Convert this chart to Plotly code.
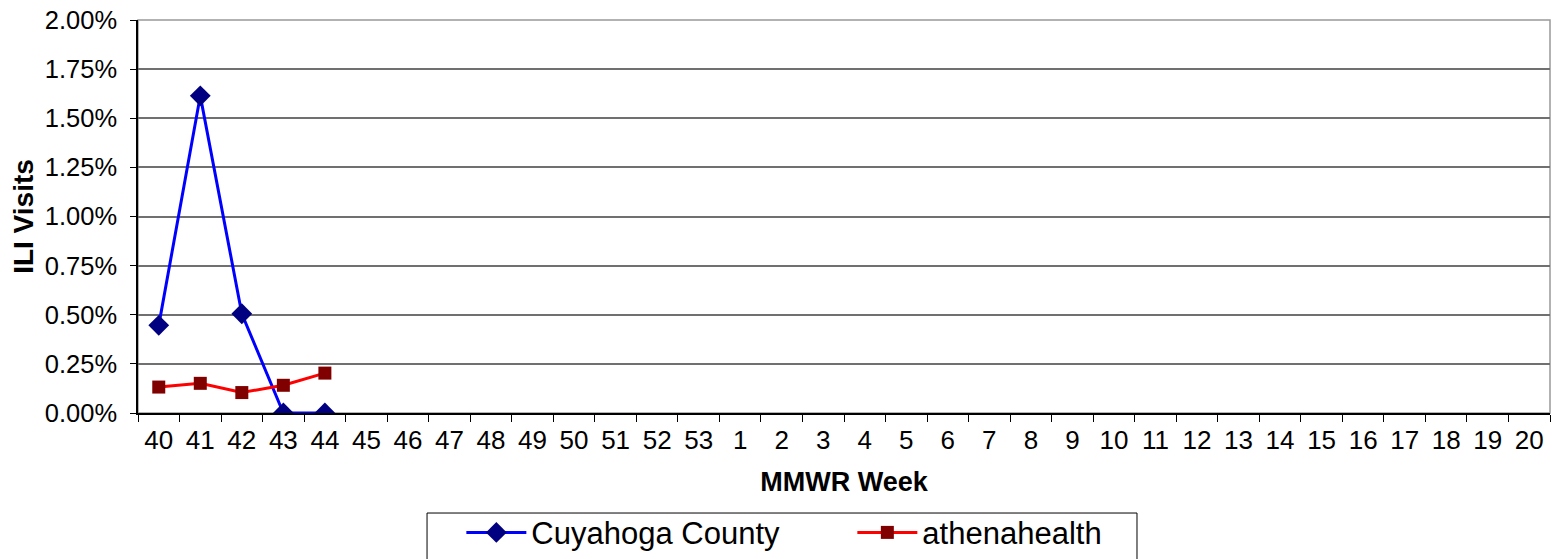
import plotly.graph_objects as go

weeks = [str(w) for w in range(40, 54)] + [str(w) for w in range(1, 21)]
cuyahoga_weeks = ["40", "41", "42", "43", "44"]
cuyahoga_pct = [0.446, 1.614, 0.505, 0.0, 0.0]
athena_weeks = ["40", "41", "42", "43", "44"]
athena_pct = [0.132, 0.151, 0.104, 0.141, 0.203]
y_tickvals = [0, 0.25, 0.5, 0.75, 1.0, 1.25, 1.5, 1.75, 2.0]
y_ticktext = ["0.00%", "0.25%", "0.50%", "0.75%", "1.00%", "1.25%", "1.50%", "1.75%", "2.00%"]

fig = go.Figure()
fig.add_trace(go.Scatter(
    x=cuyahoga_weeks, y=cuyahoga_pct, name="Cuyahoga County", mode="lines+markers",
    line=dict(color="#0000FF", width=3),
    marker=dict(symbol="diamond", color="#000080", size=16),
))
fig.add_trace(go.Scatter(
    x=athena_weeks, y=athena_pct, name="athenahealth", mode="lines+markers",
    line=dict(color="#FF0000", width=3),
    marker=dict(symbol="square", color="#800000", size=13),
))

# plot-area frame (gray right edge)
fig.add_shape(type="rect", xref="paper", yref="paper", x0=0, x1=1, y0=0, y1=1,
              line=dict(color="#999999", width=1.5), layer="below")
# legend frame
fig.add_shape(type="rect", xref="paper", yref="paper", x0=0.2047, x1=0.7075,
              y0=-0.45, y1=-0.2545, line=dict(color="black", width=1), layer="below")

fig.update_layout(
    width=1551, height=551,
    margin=dict(l=130, r=9, t=12, b=146, autoexpand=False),
    paper_bgcolor="white", plot_bgcolor="white",
    font=dict(family="Liberation Sans, Arial, sans-serif", color="black", size=26),
    showlegend=True,
    legend=dict(
        orientation="h", x=0.229, y=-0.236, xanchor="left", yanchor="top",
        borderwidth=0, bgcolor="rgba(0,0,0,0)",
        font=dict(family="Liberation Sans, Arial, sans-serif", size=31),
        entrywidth=316, entrywidthmode="pixels", itemwidth=60,
    ),
    xaxis=dict(
        type="category", categoryorder="array", categoryarray=weeks,
        range=[-0.5, len(weeks) - 0.5], automargin=False,
        showgrid=False, showline=True, linecolor="black", linewidth=1.5,
        ticks="outside", tickson="boundaries", ticklen=7, tickcolor="black",
        ticklabelstandoff=3, ticklabeloverflow="allow",
        tickfont=dict(size=26),
        title=dict(text="<b>MMWR Week</b>", font=dict(size=27), standoff=18),
    ),
    yaxis=dict(
        range=[0, 2.0], tickvals=y_tickvals, ticktext=y_ticktext, automargin=False,
        showgrid=True, gridcolor="#707070", gridwidth=1.5,
        showline=True, linecolor="black", linewidth=1.5,
        ticks="outside", ticklen=6, tickcolor="black", ticklabelstandoff=8,
        ticklabeloverflow="allow",
        tickfont=dict(size=25.5), zeroline=False,
        title=dict(text="<b>ILI Visits</b>", font=dict(size=28), standoff=30),
    ),
)

fig.write_html("out.html")
